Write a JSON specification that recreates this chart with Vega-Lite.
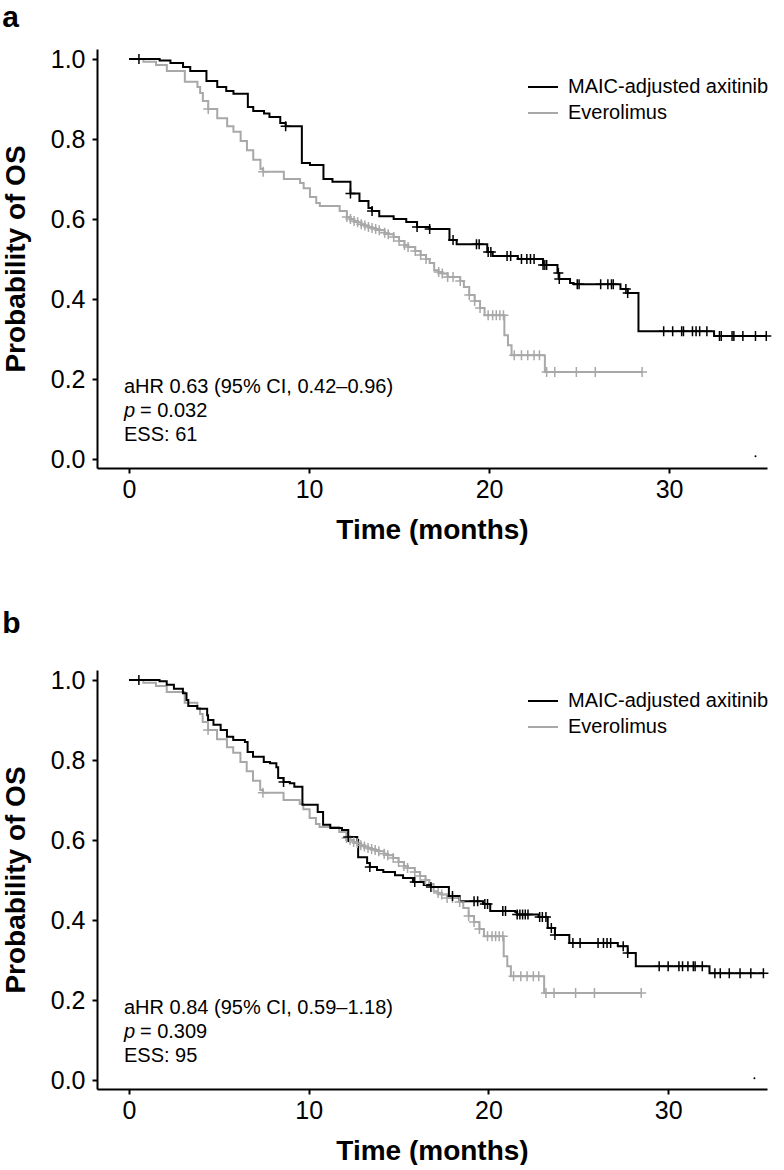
{
  "$schema": "https://vega.github.io/schema/vega-lite/v6.json",
  "padding": {"left": 2, "top": 3, "right": 0, "bottom": 0},
  "background": "white",
  "config": {
    "font": "Liberation Sans",
    "view": {"stroke": null},
    "axis": {"domainColor": "black", "domainWidth": 2, "tickColor": "black", "tickWidth": 2, "tickSize": 5, "labelFontSize": 25, "labelColor": "black", "titleFontSize": 28, "titleFontWeight": "bold", "titleColor": "black", "grid": false, "labelFont": "Liberation Sans", "titleFont": "Liberation Sans"},
    "axisY": {"labelPadding": 7, "titlePadding": 20},
    "axisX": {"labelPadding": 4, "titlePadding": 14},
    "title": {"fontSize": 30, "fontWeight": "bold", "anchor": "start", "frame": "bounds", "color": "black", "font": "Liberation Sans"}
  },
  "datasets": {
    "eve": [
      {"month":0,"surv":1.0,"censored":0},{"month":0.8,"surv":0.993,"censored":0},{"month":1.5,"surv":0.985,"censored":0},{"month":2.1,"surv":0.97,"censored":0},{"month":3.1,"surv":0.943,"censored":0},{"month":3.8,"surv":0.93,"censored":0},{"month":3.95,"surv":0.915,"censored":0},{"month":4.1,"surv":0.895,"censored":0},{"month":4.4,"surv":0.875,"censored":1},{"month":4.9,"surv":0.852,"censored":0},{"month":5.45,"surv":0.832,"censored":0},{"month":5.8,"surv":0.818,"censored":0},{"month":6.2,"surv":0.795,"censored":0},{"month":6.55,"surv":0.772,"censored":0},{"month":6.9,"surv":0.748,"censored":0},{"month":7.3,"surv":0.725,"censored":0},{"month":7.45,"surv":0.718,"censored":1},{"month":8.6,"surv":0.70,"censored":0},{"month":9.5,"surv":0.69,"censored":0},{"month":9.7,"surv":0.677,"censored":0},{"month":10.05,"surv":0.655,"censored":0},{"month":10.4,"surv":0.64,"censored":0},{"month":10.6,"surv":0.633,"censored":0},{"month":11.7,"surv":0.62,"censored":0},{"month":12.1,"surv":0.605,"censored":1},{"month":12.3,"surv":0.60,"censored":1},{"month":12.5,"surv":0.595,"censored":1},{"month":12.7,"surv":0.592,"censored":1},{"month":12.9,"surv":0.587,"censored":1},{"month":13.1,"surv":0.584,"censored":1},{"month":13.3,"surv":0.58,"censored":1},{"month":13.5,"surv":0.578,"censored":1},{"month":13.7,"surv":0.575,"censored":1},{"month":13.9,"surv":0.572,"censored":1},{"month":14.2,"surv":0.566,"censored":1},{"month":14.4,"surv":0.562,"censored":1},{"month":14.7,"surv":0.555,"censored":1},{"month":15.0,"surv":0.545,"censored":1},{"month":15.3,"surv":0.535,"censored":1},{"month":15.5,"surv":0.53,"censored":1},{"month":15.9,"surv":0.52,"censored":1},{"month":16.2,"surv":0.51,"censored":1},{"month":16.5,"surv":0.50,"censored":1},{"month":16.7,"surv":0.49,"censored":0},{"month":16.95,"surv":0.472,"censored":0},{"month":17.2,"surv":0.468,"censored":1},{"month":17.4,"surv":0.464,"censored":1},{"month":17.7,"surv":0.455,"censored":1},{"month":18.0,"surv":0.455,"censored":1},{"month":18.4,"surv":0.445,"censored":1},{"month":18.6,"surv":0.43,"censored":0},{"month":18.9,"surv":0.41,"censored":1},{"month":19.2,"surv":0.395,"censored":1},{"month":19.5,"surv":0.378,"censored":1},{"month":19.75,"surv":0.36,"censored":0},{"month":19.95,"surv":0.36,"censored":1},{"month":20.2,"surv":0.36,"censored":1},{"month":20.4,"surv":0.36,"censored":1},{"month":20.6,"surv":0.36,"censored":1},{"month":20.8,"surv":0.36,"censored":1},{"month":20.85,"surv":0.31,"censored":0},{"month":21.05,"surv":0.285,"censored":0},{"month":21.25,"surv":0.26,"censored":0},{"month":21.4,"surv":0.26,"censored":1},{"month":21.8,"surv":0.26,"censored":1},{"month":22.15,"surv":0.26,"censored":1},{"month":22.5,"surv":0.26,"censored":1},{"month":22.8,"surv":0.26,"censored":1},{"month":23.1,"surv":0.218,"censored":0},{"month":23.2,"surv":0.218,"censored":1},{"month":23.65,"surv":0.218,"censored":1},{"month":24.85,"surv":0.218,"censored":1},{"month":25.9,"surv":0.218,"censored":1},{"month":28.5,"surv":0.218,"censored":1}
    ],
    "axa": [
      {"month":0,"surv":1.0,"censored":0},{"month":0.55,"surv":1.0,"censored":1},{"month":1.7,"surv":0.996,"censored":0},{"month":2.3,"surv":0.99,"censored":0},{"month":3.0,"surv":0.98,"censored":0},{"month":3.4,"surv":0.97,"censored":0},{"month":4.3,"surv":0.945,"censored":0},{"month":4.9,"surv":0.93,"censored":0},{"month":5.4,"surv":0.92,"censored":0},{"month":5.8,"surv":0.913,"censored":0},{"month":6.6,"surv":0.88,"censored":0},{"month":6.9,"surv":0.87,"censored":0},{"month":7.5,"surv":0.864,"censored":0},{"month":7.8,"surv":0.855,"censored":0},{"month":8.4,"surv":0.84,"censored":0},{"month":8.7,"surv":0.832,"censored":1},{"month":9.6,"surv":0.74,"censored":0},{"month":10.05,"surv":0.735,"censored":0},{"month":10.8,"surv":0.70,"censored":0},{"month":11.3,"surv":0.693,"censored":0},{"month":12.3,"surv":0.664,"censored":1},{"month":12.8,"surv":0.645,"censored":0},{"month":13.3,"surv":0.628,"censored":0},{"month":13.5,"surv":0.62,"censored":1},{"month":13.9,"surv":0.607,"censored":0},{"month":14.7,"surv":0.60,"censored":0},{"month":15.4,"surv":0.593,"censored":0},{"month":16.0,"surv":0.58,"censored":1},{"month":16.7,"surv":0.575,"censored":1},{"month":17.8,"surv":0.548,"censored":0},{"month":18.0,"surv":0.548,"censored":1},{"month":18.2,"surv":0.537,"censored":0},{"month":19.3,"surv":0.537,"censored":1},{"month":19.45,"surv":0.537,"censored":1},{"month":19.9,"surv":0.518,"censored":0},{"month":19.95,"surv":0.518,"censored":1},{"month":20.1,"surv":0.518,"censored":1},{"month":20.2,"surv":0.508,"censored":0},{"month":21.0,"surv":0.508,"censored":1},{"month":21.2,"surv":0.508,"censored":1},{"month":21.6,"surv":0.50,"censored":0},{"month":21.8,"surv":0.50,"censored":1},{"month":22.1,"surv":0.50,"censored":1},{"month":22.3,"surv":0.50,"censored":1},{"month":22.5,"surv":0.50,"censored":1},{"month":23.0,"surv":0.485,"censored":1},{"month":23.1,"surv":0.485,"censored":1},{"month":23.2,"surv":0.485,"censored":1},{"month":23.8,"surv":0.465,"censored":0},{"month":23.85,"surv":0.465,"censored":1},{"month":23.9,"surv":0.45,"censored":1},{"month":24.5,"surv":0.44,"censored":0},{"month":24.7,"surv":0.437,"censored":0},{"month":24.9,"surv":0.437,"censored":1},{"month":25.0,"surv":0.437,"censored":1},{"month":26.2,"surv":0.437,"censored":1},{"month":26.6,"surv":0.437,"censored":1},{"month":26.8,"surv":0.437,"censored":1},{"month":26.9,"surv":0.437,"censored":1},{"month":27.3,"surv":0.425,"censored":0},{"month":27.6,"surv":0.425,"censored":1},{"month":27.7,"surv":0.415,"censored":1},{"month":28.3,"surv":0.32,"censored":0},{"month":29.7,"surv":0.32,"censored":1},{"month":30.2,"surv":0.32,"censored":1},{"month":30.7,"surv":0.32,"censored":1},{"month":30.8,"surv":0.32,"censored":1},{"month":31.3,"surv":0.32,"censored":1},{"month":31.5,"surv":0.32,"censored":1},{"month":31.7,"surv":0.32,"censored":1},{"month":32.1,"surv":0.32,"censored":1},{"month":32.5,"surv":0.308,"censored":0},{"month":32.8,"surv":0.308,"censored":1},{"month":32.9,"surv":0.308,"censored":1},{"month":33.5,"surv":0.308,"censored":1},{"month":33.6,"surv":0.308,"censored":1},{"month":34.1,"surv":0.308,"censored":1},{"month":34.8,"surv":0.308,"censored":1},{"month":35.4,"surv":0.308,"censored":1}
    ],
    "axb": [
      {"month":0,"surv":1.0,"censored":0},{"month":0.55,"surv":1.0,"censored":1},{"month":1.7,"surv":0.997,"censored":0},{"month":2.1,"surv":0.988,"censored":0},{"month":2.5,"surv":0.978,"censored":0},{"month":3.0,"surv":0.967,"censored":0},{"month":3.2,"surv":0.95,"censored":0},{"month":3.3,"surv":0.935,"censored":0},{"month":3.8,"surv":0.928,"censored":0},{"month":4.35,"surv":0.912,"censored":0},{"month":4.4,"surv":0.90,"censored":0},{"month":4.7,"surv":0.888,"censored":0},{"month":5.1,"surv":0.875,"censored":0},{"month":5.45,"surv":0.858,"censored":0},{"month":5.8,"surv":0.85,"censored":0},{"month":6.45,"surv":0.845,"censored":0},{"month":6.6,"surv":0.82,"censored":0},{"month":6.9,"surv":0.808,"censored":0},{"month":7.5,"surv":0.795,"censored":0},{"month":7.85,"surv":0.792,"censored":0},{"month":8.2,"surv":0.782,"censored":0},{"month":8.3,"surv":0.755,"censored":0},{"month":8.6,"surv":0.745,"censored":1},{"month":8.95,"surv":0.742,"censored":0},{"month":9.2,"surv":0.733,"censored":0},{"month":9.65,"surv":0.688,"censored":0},{"month":10.5,"surv":0.67,"censored":0},{"month":10.8,"surv":0.638,"censored":0},{"month":11.2,"surv":0.63,"censored":0},{"month":11.85,"surv":0.625,"censored":0},{"month":12.2,"surv":0.608,"censored":1},{"month":12.7,"surv":0.60,"censored":0},{"month":12.75,"surv":0.557,"censored":0},{"month":13.25,"surv":0.543,"censored":0},{"month":13.4,"surv":0.533,"censored":1},{"month":13.8,"surv":0.525,"censored":0},{"month":14.15,"surv":0.52,"censored":0},{"month":14.8,"surv":0.512,"censored":0},{"month":15.25,"surv":0.505,"censored":0},{"month":15.8,"surv":0.495,"censored":0},{"month":15.9,"surv":0.495,"censored":1},{"month":16.4,"surv":0.488,"censored":0},{"month":16.8,"surv":0.483,"censored":1},{"month":17.8,"surv":0.46,"censored":0},{"month":18.0,"surv":0.46,"censored":1},{"month":18.4,"surv":0.447,"censored":0},{"month":19.2,"surv":0.447,"censored":1},{"month":19.4,"surv":0.447,"censored":1},{"month":19.7,"surv":0.44,"censored":0},{"month":19.8,"surv":0.44,"censored":1},{"month":19.95,"surv":0.44,"censored":1},{"month":20.1,"surv":0.423,"censored":0},{"month":20.8,"surv":0.423,"censored":1},{"month":20.95,"surv":0.423,"censored":1},{"month":21.5,"surv":0.42,"censored":0},{"month":21.6,"surv":0.414,"censored":1},{"month":21.75,"surv":0.414,"censored":1},{"month":21.9,"surv":0.414,"censored":1},{"month":22.05,"surv":0.414,"censored":1},{"month":22.2,"surv":0.414,"censored":1},{"month":22.8,"surv":0.408,"censored":0},{"month":22.85,"surv":0.408,"censored":1},{"month":23.0,"surv":0.408,"censored":1},{"month":23.2,"surv":0.408,"censored":1},{"month":23.3,"surv":0.38,"censored":0},{"month":23.5,"surv":0.38,"censored":1},{"month":23.7,"surv":0.363,"censored":1},{"month":24.5,"surv":0.343,"censored":0},{"month":24.7,"surv":0.343,"censored":1},{"month":25.1,"surv":0.343,"censored":1},{"month":26.1,"surv":0.343,"censored":1},{"month":26.4,"surv":0.343,"censored":1},{"month":26.6,"surv":0.343,"censored":1},{"month":26.8,"surv":0.343,"censored":1},{"month":27.2,"surv":0.335,"censored":0},{"month":27.5,"surv":0.335,"censored":1},{"month":27.75,"surv":0.318,"censored":1},{"month":28.2,"surv":0.285,"censored":0},{"month":29.5,"surv":0.285,"censored":1},{"month":30.0,"surv":0.285,"censored":1},{"month":30.6,"surv":0.285,"censored":1},{"month":30.8,"surv":0.285,"censored":1},{"month":31.1,"surv":0.285,"censored":1},{"month":31.4,"surv":0.285,"censored":1},{"month":31.5,"surv":0.285,"censored":1},{"month":31.9,"surv":0.285,"censored":1},{"month":32.3,"surv":0.2675,"censored":0},{"month":32.6,"surv":0.2675,"censored":1},{"month":32.9,"surv":0.2675,"censored":1},{"month":33.4,"surv":0.2675,"censored":1},{"month":34.0,"surv":0.2675,"censored":1},{"month":34.6,"surv":0.2675,"censored":1},{"month":35.3,"surv":0.2675,"censored":1}
    ]
  },
  "spacing": 65,
  "resolve": {"scale": {"color": "independent"}, "legend": {"color": "independent"}},
  "vconcat": [
    {
      "title": {"text": "a", "offset": 14},
      "width": 670, "height": 419,
      "layer": [
        {"data": {"name": "eve"}, "mark": {"type": "line", "interpolate": "step-after", "strokeWidth": 2},
         "encoding": {
           "x": {"field": "month", "type": "quantitative", "scale": {"domain": [-1.78, 35.44], "nice": false, "zero": false}, "axis": {"values": [0, 10, 20, 30], "title": "Time (months)"}},
           "y": {"field": "surv", "type": "quantitative", "scale": {"domain": [-0.022, 1.025], "nice": false, "zero": false}, "axis": {"values": [0, 0.2, 0.4, 0.6, 0.8, 1], "format": ".1f", "title": "Probability of OS"}},
           "color": {"datum": "Everolimus", "type": "nominal", "scale": {"domain": ["MAIC-adjusted axitinib", "Everolimus"], "range": ["#000000", "#a8a8a8"]},
             "legend": {"orient": "none", "legendX": 430, "legendY": 22, "title": null, "symbolType": "stroke", "symbolSize": 900, "symbolStrokeWidth": 2, "labelFontSize": 20, "labelColor": "black", "labelLimit": 400, "rowPadding": -4, "labelOffset": 9, "labelFont": "Liberation Sans"}}
         }},
        {"data": {"name": "axa"}, "mark": {"type": "line", "interpolate": "step-after", "strokeWidth": 2},
         "encoding": {
           "x": {"field": "month", "type": "quantitative"},
           "y": {"field": "surv", "type": "quantitative"},
           "color": {"datum": "MAIC-adjusted axitinib", "type": "nominal"}
         }},
        {"data": {"name": "eve"}, "transform": [{"filter": "datum.censored == 1"}],
         "mark": {"type": "point", "shape": "M-1,0H1M0,-1V1", "size": 100, "filled": false, "stroke": "#a8a8a8", "strokeWidth": 1.5, "opacity": 1},
         "encoding": {"x": {"field": "month", "type": "quantitative"}, "y": {"field": "surv", "type": "quantitative"}}},
        {"data": {"name": "axa"}, "transform": [{"filter": "datum.censored == 1"}],
         "mark": {"type": "point", "shape": "M-1,0H1M0,-1V1", "size": 100, "filled": false, "stroke": "#000000", "strokeWidth": 1.5, "opacity": 1},
         "encoding": {"x": {"field": "month", "type": "quantitative"}, "y": {"field": "surv", "type": "quantitative"}}},
        {"data": {"values": [{}]}, "mark": {"type": "text", "align": "left", "baseline": "middle", "fontSize": 20, "color": "black"},
         "encoding": {"x": {"datum": -0.28, "type": "quantitative"}, "y": {"datum": 0.18, "type": "quantitative"}, "text": {"value": "aHR 0.63 (95% CI, 0.42–0.96)"}}},
        {"data": {"values": [{}]}, "mark": {"type": "text", "align": "left", "baseline": "middle", "fontSize": 20, "fontStyle": "italic", "color": "black"},
         "encoding": {"x": {"datum": -0.28, "type": "quantitative"}, "y": {"datum": 0.12, "type": "quantitative"}, "text": {"value": "p"}}},
        {"data": {"values": [{}]}, "mark": {"type": "text", "align": "left", "baseline": "middle", "fontSize": 20, "color": "black", "dx": 16},
         "encoding": {"x": {"datum": -0.28, "type": "quantitative"}, "y": {"datum": 0.12, "type": "quantitative"}, "text": {"value": "= 0.032"}}},
        {"data": {"values": [{}]}, "mark": {"type": "text", "align": "left", "baseline": "middle", "fontSize": 20, "color": "black"},
         "encoding": {"x": {"datum": -0.28, "type": "quantitative"}, "y": {"datum": 0.06, "type": "quantitative"}, "text": {"value": "ESS: 61"}}},
        {"data": {"values": [{}]}, "mark": {"type": "point", "filled": true, "size": 4, "color": "black", "opacity": 1},
         "encoding": {"x": {"datum": 34.8, "type": "quantitative"}, "y": {"datum": 0.0075, "type": "quantitative"}}}
      ]
    },
    {
      "title": {"text": "b", "offset": 29},
      "width": 670, "height": 419,
      "layer": [
        {"data": {"name": "eve"}, "mark": {"type": "line", "interpolate": "step-after", "strokeWidth": 2},
         "encoding": {
           "x": {"field": "month", "type": "quantitative", "scale": {"domain": [-1.78, 35.5], "nice": false, "zero": false}, "axis": {"values": [0, 10, 20, 30], "title": "Time (months)"}},
           "y": {"field": "surv", "type": "quantitative", "scale": {"domain": [-0.022, 1.025], "nice": false, "zero": false}, "axis": {"values": [0, 0.2, 0.4, 0.6, 0.8, 1], "format": ".1f", "title": "Probability of OS"}},
           "color": {"datum": "Everolimus", "type": "nominal", "scale": {"domain": ["MAIC-adjusted axitinib", "Everolimus"], "range": ["#000000", "#a8a8a8"]},
             "legend": {"orient": "none", "legendX": 430, "legendY": 15, "title": null, "symbolType": "stroke", "symbolSize": 900, "symbolStrokeWidth": 2, "labelFontSize": 20, "labelColor": "black", "labelLimit": 400, "rowPadding": -3, "labelOffset": 9, "labelFont": "Liberation Sans"}}
         }},
        {"data": {"name": "axb"}, "mark": {"type": "line", "interpolate": "step-after", "strokeWidth": 2},
         "encoding": {
           "x": {"field": "month", "type": "quantitative"},
           "y": {"field": "surv", "type": "quantitative"},
           "color": {"datum": "MAIC-adjusted axitinib", "type": "nominal"}
         }},
        {"data": {"name": "eve"}, "transform": [{"filter": "datum.censored == 1"}],
         "mark": {"type": "point", "shape": "M-1,0H1M0,-1V1", "size": 100, "filled": false, "stroke": "#a8a8a8", "strokeWidth": 1.5, "opacity": 1},
         "encoding": {"x": {"field": "month", "type": "quantitative"}, "y": {"field": "surv", "type": "quantitative"}}},
        {"data": {"name": "axb"}, "transform": [{"filter": "datum.censored == 1"}],
         "mark": {"type": "point", "shape": "M-1,0H1M0,-1V1", "size": 100, "filled": false, "stroke": "#000000", "strokeWidth": 1.5, "opacity": 1},
         "encoding": {"x": {"field": "month", "type": "quantitative"}, "y": {"field": "surv", "type": "quantitative"}}},
        {"data": {"values": [{}]}, "mark": {"type": "text", "align": "left", "baseline": "middle", "fontSize": 20, "color": "black"},
         "encoding": {"x": {"datum": -0.28, "type": "quantitative"}, "y": {"datum": 0.18, "type": "quantitative"}, "text": {"value": "aHR 0.84 (95% CI, 0.59–1.18)"}}},
        {"data": {"values": [{}]}, "mark": {"type": "text", "align": "left", "baseline": "middle", "fontSize": 20, "fontStyle": "italic", "color": "black"},
         "encoding": {"x": {"datum": -0.28, "type": "quantitative"}, "y": {"datum": 0.12, "type": "quantitative"}, "text": {"value": "p"}}},
        {"data": {"values": [{}]}, "mark": {"type": "text", "align": "left", "baseline": "middle", "fontSize": 20, "color": "black", "dx": 16},
         "encoding": {"x": {"datum": -0.28, "type": "quantitative"}, "y": {"datum": 0.12, "type": "quantitative"}, "text": {"value": "= 0.309"}}},
        {"data": {"values": [{}]}, "mark": {"type": "text", "align": "left", "baseline": "middle", "fontSize": 20, "color": "black"},
         "encoding": {"x": {"datum": -0.28, "type": "quantitative"}, "y": {"datum": 0.06, "type": "quantitative"}, "text": {"value": "ESS: 95"}}},
        {"data": {"values": [{}]}, "mark": {"type": "point", "filled": true, "size": 4, "color": "black", "opacity": 1},
         "encoding": {"x": {"datum": 34.8, "type": "quantitative"}, "y": {"datum": 0.005, "type": "quantitative"}}}
      ]
    }
  ]
}
